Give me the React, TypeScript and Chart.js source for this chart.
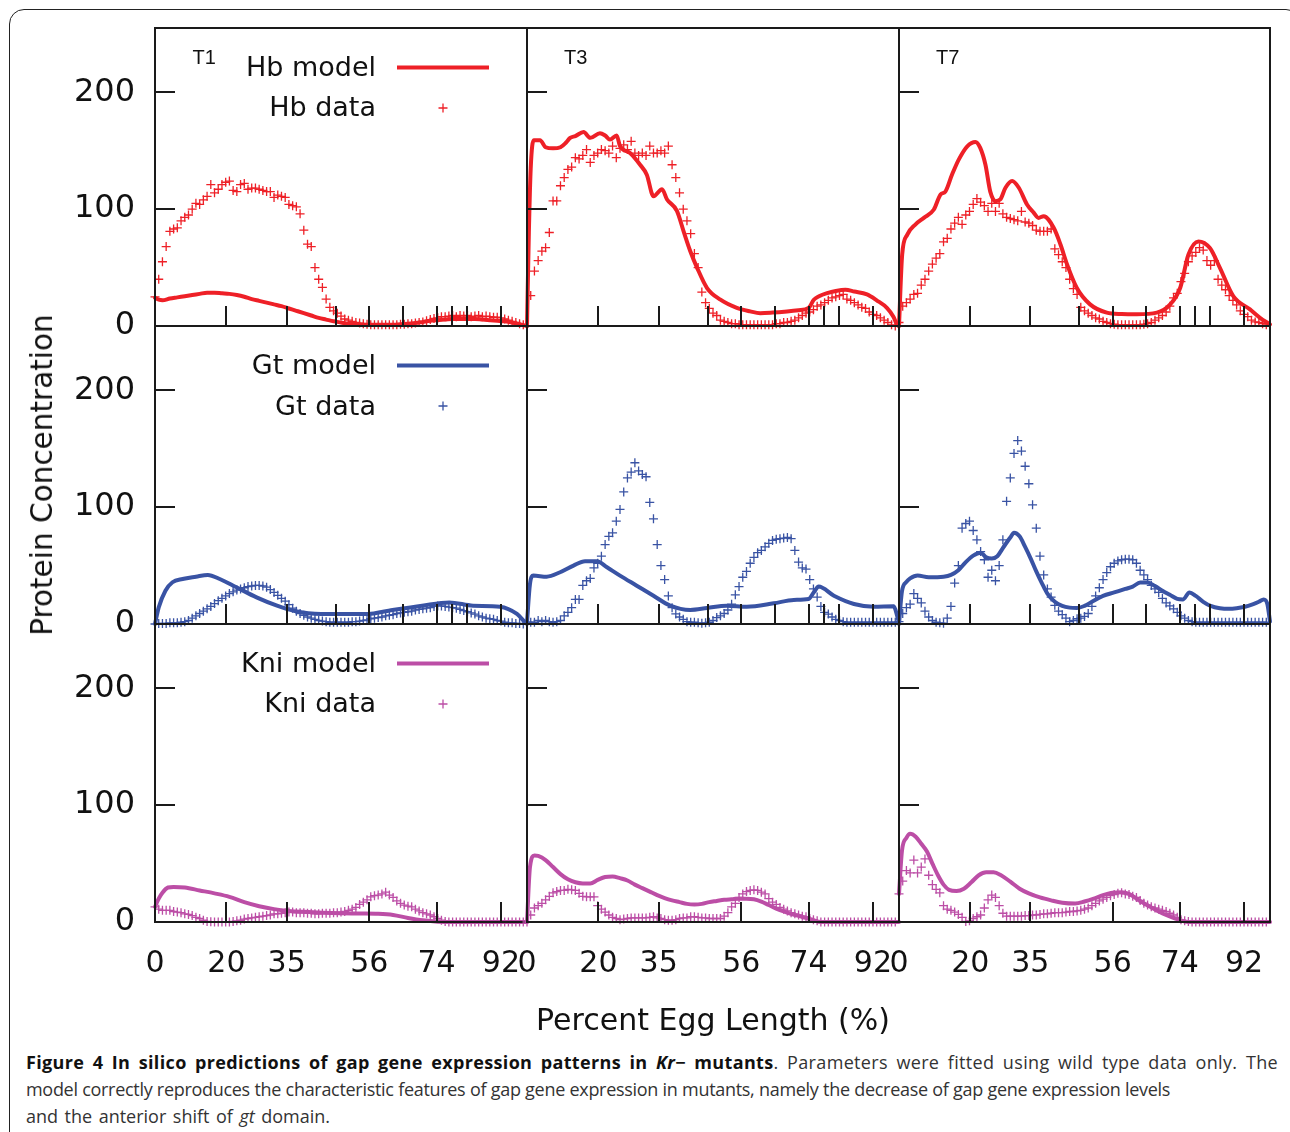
import React, { useEffect, useRef } from 'react';
import { Chart, registerables } from 'chart.js';
Chart.register(...registerables);

type Pt = [number, number];

// ---------- axes ----------
const DATA_X = [0, 1, 2, 3, 4, 5, 6, 7, 8, 9, 10, 11, 12, 13, 14, 15, 16, 17, 18, 19, 20, 21, 22, 23, 24, 25, 26, 27, 28, 29, 30, 31, 32, 33, 34, 35, 36, 37, 38, 39, 40, 41, 42, 43, 44, 45, 46, 47, 48, 49, 50, 51, 52, 53, 54, 55, 56, 57, 58, 59, 60, 61, 62, 63, 64, 65, 66, 67, 68, 69, 70, 71, 72, 73, 74, 75, 76, 77, 78, 79, 80, 81, 82, 83, 84, 85, 86, 87, 88, 89, 90, 91, 92, 93, 94, 95, 96, 97, 98, 99];
const X_TICK_MARKS = [19.2, 35.4, 48.6, 57.6, 66.6, 75.7, 79.8, 83.9, 93.0];
const X_TICK_MARKS_BOTTOM = [19.2, 35.4, 57.6, 75.7, 93.0];
const X_LABEL_POS = [0, 19.2, 35.4, 57.6, 75.7, 93.0];
const X_LABELS = ['0', '20', '35', '56', '74', '92'];
const Y_TICKS = [0, 100, 200];
const Y_MARKS = [100, 200];
const TIME_LABELS = ['T1', 'T3', 'T7'];
const GENES = ['Hb', 'Gt', 'Kni'];
const COLORS = ['#ee2027', '#3953a4', '#bc4ea6'];

// ---------- Hb ----------
const T1_HB_DATA = [25, 40, 55, 68, 81, 83, 84, 90, 93, 95,
  100, 105, 104, 108, 111, 121, 114, 117, 121, 123,
  124, 116, 115, 121, 122, 117, 118, 118, 117, 116,
  115, 115, 110, 112, 111, 110, 104, 103, 102, 96,
  82, 70, 68, 50, 40, 33, 23, 16, 13, 11,
  8.5, 6, 5, 4, 3, 2.5, 2, 1.5, 1, 1,
  1, 1, 1, 1, 1, 1, 1.5, 1.5, 2, 2,
  2.5, 3, 3.5, 4.5, 5.5, 6.5, 7, 8, 8, 8.5,
  9, 8, 9, 8.5, 9, 8, 8.5, 9, 8, 8.5,
  8, 7.5, 7.5, 7, 6, 5, 4, 3, 2, 1];
const T3_HB_DATA = [0, 26, 47, 56, 64, 67, 80, 107, 107, 120,
  127, 134, 136, 144, 143, 146, 151, 140, 146, 148,
  151, 150, 148, 154, 144, 152, 155, 151, 158, 148,
  146, 148, 146, 154, 148, 148, 150, 148, 154, 138,
  127, 114, 100, 90, 79, 62, 50, 29, 20, 15,
  11, 9, 5, 4, 3, 2, 2, 1, 1, 1,
  1, 1, 1, 1, 1, 1, 1, 2, 2, 3,
  3, 4, 5, 7, 9, 11, 12, 14, 17, 18,
  20, 22, 24, 25, 26, 27, 23, 22, 20, 18,
  16, 15, 12, 10, 9, 7, 5, 3, 1, 0];
const T7_HB_DATA = [3, 17, 20, 23, 27, 28, 35, 40, 47, 53,
  58, 62, 72, 75, 83, 88, 93, 87, 95, 98,
  104, 109, 106, 103, 98, 105, 98, 105, 96, 93,
  92, 91, 90, 98, 89, 88, 86, 82, 81, 81,
  81, 83, 66, 61, 55, 50, 40, 32, 27, 16,
  13, 11, 9, 7, 6, 4, 3, 2, 1.5, 1,
  1, 1, 1, 1, 1, 1, 1.5, 2, 3, 5,
  7, 9, 12, 17, 24, 28, 38, 45, 55, 60,
  63, 67, 65, 56, 52, 56, 40, 35, 31, 26,
  22, 18, 13, 10, 8, 5, 3.5, 3, 2, 1];
const T1_HB_MODEL: Pt[] = [[0, 24], [1, 22.5], [2, 22], [4, 23.5], [6, 24.5], [8, 25.5], [10, 26.5], [12, 27.5], [14, 28.5], [16, 28.5], [18, 28], [20, 27.5], [22, 26.5], [24, 25], [26, 23], [28, 21.5], [30, 20], [32, 18.5], [34, 17], [36, 15], [38, 13], [40, 11], [42, 9], [44, 7], [46, 5.5], [48, 4], [50, 3], [52, 2], [55, 1.3], [60, 1], [64, 1], [66, 1.5], [68, 2], [70, 2.5], [72, 3.5], [74, 4.5], [76, 5], [78, 5.5], [80, 6], [86, 6], [88, 5.5], [90, 5], [92, 4.5], [94, 4], [96, 3], [98, 1.5], [100, 0]];
const T3_HB_MODEL: Pt[] = [[0, 0], [0.5, 80], [1, 135], [1.8, 159], [3.5, 159], [5, 153], [7, 152], [9, 153], [10.5, 157], [11.6, 161], [13, 162.5], [15.2, 166], [17, 161], [19.6, 165], [21, 163], [22.3, 159.5], [24.1, 163], [25, 154], [27.7, 148], [30.4, 138], [32.2, 129.5], [34, 111], [36.3, 117], [37.6, 108.5], [40.3, 98.5], [42.1, 81], [43.9, 64], [45.7, 50], [48.4, 32.5], [52, 22.5], [56.4, 15.5], [60, 12.5], [62.7, 11], [66, 11.5], [69.9, 12.5], [73, 13.5], [75.7, 15.4], [77.1, 22.5], [78.5, 25.5], [80.7, 28.2], [83, 30], [85.6, 31], [88, 29.5], [91.4, 27], [94, 22], [96.8, 15.4], [98.5, 8], [99.5, 1], [100, 0]];
const T7_HB_MODEL: Pt[] = [[0, 0], [0.85, 61], [2.2, 78], [4.4, 86.8], [6.7, 92.5], [9.4, 99.7], [11.2, 112.5], [12.5, 115], [14.3, 129.6], [16.1, 142.4], [18.4, 153.8], [20.6, 157.5], [21.9, 152.4], [23.3, 138], [24.6, 115], [26, 106.8], [27.3, 108.3], [28.7, 118.3], [30.5, 124], [32.3, 118.3], [34.5, 104], [36.3, 97], [37.6, 92.5], [39, 94], [41.7, 84], [43.5, 70], [45.3, 52.7], [47.9, 32.7], [51.5, 18.5], [56, 11.4], [60, 10.2], [64.1, 10], [69.5, 11.4], [73.1, 18.5], [75.8, 32.7], [78, 61], [80.7, 72.4], [83.8, 66.7], [86.5, 49.8], [90.1, 25.6], [94.6, 14.2], [97.3, 7], [100, 1.4]];

// ---------- Gt ----------
const T1_GT_DATA = [0, 0.5, 0.5, 0.5, 1, 1, 1, 1.5, 2, 3,
  5, 7, 9, 11, 13, 15, 17.5, 20, 22, 24,
  26, 27.5, 29, 30, 31, 32, 32.5, 33, 33, 32.5,
  31.5, 29.5, 27, 24.5, 22, 19.5, 16.5, 13.5, 11, 9,
  7.5, 6, 5, 4, 3, 2.5, 2, 1.5, 1.5, 1.5,
  1.5, 1.5, 1.5, 2, 2, 2.5, 3, 3.5, 4.5, 5,
  5.5, 6, 7, 7.5, 8, 9, 9.5, 10, 10.5, 11,
  12, 12.5, 13, 13.5, 14, 15, 15.5, 15.5, 15, 14.5,
  14, 13.5, 12.5, 11.5, 10.5, 9.5, 8.5, 7, 6, 5,
  4.5, 4, 3, 2.5, 1.5, 1, 1, 0.5, 0.5, 0];
const T3_GT_DATA = [1.5, 1.5, 1.5, 3, 2, 3, 2, 1.5, 2, 3,
  7, 10, 14, 21, 21, 33, 37, 39, 48, 52,
  58, 68, 75, 78, 88, 98, 113, 125, 130, 138,
  131, 128, 126, 104, 90, 68, 50, 38, 24, 14,
  8.6, 6, 4, 2, 1.5, 1.5, 1, 0.7, 1, 1.5,
  3, 5.5, 7, 9, 12, 17, 25, 32, 40, 45,
  52, 57, 61, 63, 66, 69, 71.5, 72.5, 73, 73.5,
  74, 73, 63, 53, 48, 47, 38, 30, 23, 15,
  10, 8.5, 6, 4, 3, 2, 1.5, 1.5, 1.5, 1.5,
  1.5, 1.5, 1.5, 1.5, 1.5, 1.5, 1.5, 1.5, 1.5, 1.5];
const T7_GT_DATA = [2, 9, 14, 17, 26, 22, 18, 11, 6, 3,
  1.5, 1, 0.7, 5, 15, 35, 50, 82, 86, 88,
  80, 72, 62, 55, 40, 46, 37, 50, 72, 105,
  125, 146, 157, 148, 135, 120, 102, 82, 58, 42,
  30, 23, 16, 11, 8, 5, 2, 3, 4.5, 5,
  6.5, 9, 15, 24, 31, 38, 44, 49, 52, 54,
  55, 55.5, 55.5, 55, 52, 46, 42, 38, 33, 30,
  27, 22, 18, 15.5, 13, 10, 7, 5, 3, 2,
  1.5, 1.5, 1.5, 1.5, 1.5, 1.5, 1.5, 1.5, 1.5, 1.5,
  1.5, 1.5, 1.5, 1.5, 1.5, 1.5, 1.5, 1.5, 1.5, 1.5];
const T1_GT_MODEL: Pt[] = [[0, 0], [1, 14.2], [2.8, 28.5], [4.7, 35.7], [7.4, 38.5], [11, 40.5], [14.2, 42], [17.4, 38.5], [21.9, 31.4], [27.3, 22.8], [32.8, 15.7], [37.3, 11.4], [44.6, 8.6], [57.3, 8.6], [62.8, 11.4], [71.8, 15.7], [79.1, 18.5], [85.5, 15.7], [92.7, 14.8], [97.3, 8.6], [99.5, 1.4], [100, 0]];
const T3_GT_MODEL: Pt[] = [[0, 1.5], [0.8, 34.3], [1.7, 41.4], [5.3, 40.5], [8.9, 44.3], [12.5, 50], [15.6, 53.7], [18.8, 53.7], [21.5, 48.5], [25, 41.4], [29.5, 32.8], [34, 24.2], [38.5, 15.7], [43.9, 12], [48.4, 13.7], [53.7, 15.7], [59.1, 14.8], [66.3, 17.7], [71.7, 20.6], [75.7, 21.4], [77.1, 27.1], [78.4, 32], [82.5, 24.2], [87.9, 17.1], [93.2, 14.8], [98.6, 15.1], [99.5, 7], [100, 1]];
const T7_GT_MODEL: Pt[] = [[0, 0], [0.8, 28], [2, 36], [3, 39], [5, 41.5], [8, 40], [12, 40.5], [14, 42], [16, 46], [18, 53], [20, 58.5], [22, 61], [23.5, 57], [25, 56], [26.5, 58], [28, 65], [30, 74], [31, 78], [32.5, 75], [34, 66], [35.5, 56], [37, 45], [38.5, 35], [40, 26], [42, 19], [44, 15.5], [46, 14], [48, 13.7], [50, 15.5], [52, 19], [55, 24], [58, 27], [61, 30], [63, 32], [65, 35.5], [67, 35.5], [69, 32.5], [71, 28.5], [73, 25], [75, 21.5], [76.5, 21], [78.3, 27], [80, 24], [82, 19], [84, 15.5], [86.5, 13.5], [89, 13], [91, 13.5], [93, 14.5], [95.5, 17], [97, 19], [98.3, 21], [99.3, 17], [100, 2]];

// ---------- Kni ----------
const T1_KNI_DATA = [13, 11, 10, 10, 10, 9, 8.5, 8, 7, 6.5,
  5.5, 4, 3, 1.5, 0.5, 0.2, 0, 0, 0, 0,
  0, 0.5, 1, 1.5, 2.5, 3, 3.5, 4, 4.5, 5,
  5.5, 6, 7, 7, 7.5, 8, 8.5, 8.5, 8, 8,
  8, 7.5, 7.5, 7, 7, 7.5, 7.5, 7.5, 8, 8,
  8.5, 9, 10, 11, 12.5, 15, 17, 19, 21.5, 22.5,
  23, 24, 25.5, 23, 21, 18, 16, 14.5, 13.5, 13,
  11, 9.5, 8, 7, 6, 4.5, 3, 1.5, 0.5, 0,
  0, 0, 0, 0, 0, 0, 0, 0, 0, 0,
  0, 0, 0, 0, 0, 0, 0, 0, 0, 0];
const T3_KNI_DATA = [0, 6, 12, 14, 16, 19, 22, 25, 26, 27,
  27, 28, 27.5, 27, 24.5, 22, 21.5, 21.5, 21.5, 14,
  11, 8.5, 6, 4, 3, 2, 2.5, 3, 3.5, 3.5,
  3.5, 3.5, 3.5, 4, 4.5, 3.5, 3, 2, 1.5, 1.5,
  2, 3, 3.5, 3.5, 4.5, 4.5, 4, 3.5, 3.5, 3,
  3, 3, 3, 5, 8, 13, 16, 21, 24, 26,
  27, 27.5, 27, 25.5, 24, 20, 17, 15, 12.5, 11,
  9.5, 8, 7, 6, 5, 4.5, 3, 2, 1, 0,
  0, 0, 0, 0, 0, 0, 0, 0, 0, 0,
  0, 0, 0, 0, 0, 0, 0, 0, 0, 0];
const T7_KNI_DATA = [24, 35, 44, 42, 53, 42, 47, 54, 40, 32,
  28, 25, 14, 11, 10, 8.5, 6.5, 4, 0.5, 1,
  3, 4.5, 6, 12, 19, 23, 21, 14, 7.5, 5,
  5, 5, 5, 5, 5.5, 5.5, 6, 6, 6.5, 7,
  7, 7.5, 8, 8, 8, 8.5, 9, 9, 9.5, 10,
  11, 12, 14, 16, 18, 19.5, 21, 22.5, 23.5, 24.5,
  25, 24, 23.5, 22, 21, 18.5, 16, 14.5, 13, 12,
  11, 10, 9, 7.5, 6, 4, 2, 1, 0.5, 0,
  0, 0, 0, 0, 0, 0, 0, 0, 0, 0,
  0, 0, 0, 0, 0, 0, 0, 0, 0, 0];
const T1_KNI_MODEL: Pt[] = [[0, 13], [1, 20], [2, 25], [3.5, 29.5], [5, 30], [8, 29.5], [12, 27], [16, 24.5], [20, 21.5], [24, 17], [28, 13.5], [32, 11], [36, 9.5], [40, 8.7], [45, 8], [50, 7.5], [55, 7.3], [60, 7], [64, 6], [68, 3.5], [72, 1.5], [76, 0.3], [80, 0], [100, 0]];
const T3_KNI_MODEL: Pt[] = [[0, 0], [0.8, 47], [2, 57], [3, 56.5], [5, 53], [7, 47], [9, 41], [11, 36.5], [13, 34], [15, 33], [17, 33], [19, 36], [21, 38.5], [23, 39], [25, 37.5], [27, 35.5], [29, 32], [31, 29], [33, 26], [35, 23], [37, 20.5], [39, 18.5], [41, 17], [43, 15.5], [45, 15], [47, 15.5], [49, 17], [51, 18], [53, 19], [55, 19.5], [57, 20], [59, 20], [61, 19.5], [63, 17.5], [65, 14.5], [67, 11.5], [69, 9], [71, 7], [73, 5.2], [75, 3.5], [77, 1.5], [79, 0], [100, 0]];
const T7_KNI_MODEL: Pt[] = [[0, 24], [0.8, 61], [2, 72], [3, 75.5], [4.5, 73], [6, 67], [7.5, 60.5], [9, 50], [10.5, 40], [12, 32], [13.5, 27.5], [15.5, 26.5], [17.5, 28.5], [19.5, 34], [21.5, 40], [23.5, 42.5], [25.5, 42.5], [27.5, 40], [30, 34.5], [32.5, 28.5], [35, 24.5], [38, 21], [41, 18.5], [44, 16.5], [47.5, 15.8], [50, 17.5], [52.5, 20], [55, 23], [57.5, 25], [60, 25.5], [62, 24], [64, 20], [66, 16], [68, 12.5], [70, 9], [72, 6], [74.5, 3], [77, 0.5], [79, 0], [100, 0]];

const DATA = [
  [T1_HB_DATA, T3_HB_DATA, T7_HB_DATA],
  [T1_GT_DATA, T3_GT_DATA, T7_GT_DATA],
  [T1_KNI_DATA, T3_KNI_DATA, T7_KNI_DATA],
];
const MODELS = [
  [T1_HB_MODEL, T3_HB_MODEL, T7_HB_MODEL],
  [T1_GT_MODEL, T3_GT_MODEL, T7_GT_MODEL],
  [T1_KNI_MODEL, T3_KNI_MODEL, T7_KNI_MODEL],
];

// ---------- layout ----------
const COL_EDGES = [155, 527, 899, 1270];
const ROW_EDGES = [28, 326, 624, 922];
const Y_MAX = 255;
const FONT = 'DejaVu Sans';
const INK = '#111';

function Panel({ r, c }: { r: number; c: number }) {
  const ref = useRef<HTMLCanvasElement>(null);
  const left = COL_EDGES[c];
  const top = ROW_EDGES[r];
  const pw = COL_EDGES[c + 1] - left;
  const ph = ROW_EDGES[r + 1] - top;
  const mL = c === 0 ? left : 24;
  const mR = 24;
  const mT = 24;
  const mB = r === 2 ? 100 : 24;
  const yAxisW = c === 0 ? 150 : 0;
  const xAxisH = r === 2 ? 80 : 0;
  const W = pw + mL + mR;
  const H = ph + mT + mB;

  useEffect(() => {
    const color = COLORS[r];
    const vals = DATA[r][c];
    const model = MODELS[r][c];
    const framePlugin = {
      id: 'frame',
      afterDatasetsDraw(chart: any) {
        const { ctx, chartArea: a, scales } = chart;
        const xs = scales.x;
        const ys = scales.y;
        ctx.save();
        ctx.strokeStyle = '#1a1a1a';
        ctx.lineWidth = 2;
        ctx.strokeRect(a.left, a.top, a.right - a.left, a.bottom - a.top);
        ctx.beginPath();
        const marks = r === 2 ? X_TICK_MARKS_BOTTOM : X_TICK_MARKS;
        for (const m of marks) {
          const x = Math.round(xs.getPixelForValue(m));
          ctx.moveTo(x, a.bottom);
          ctx.lineTo(x, a.bottom - 20);
        }
        for (const v of Y_MARKS) {
          const y = Math.round(ys.getPixelForValue(v));
          ctx.moveTo(a.left, y);
          ctx.lineTo(a.left + 20, y);
        }
        ctx.stroke();
        if (c === 0) {
          // legend samples
          ctx.strokeStyle = color;
          ctx.lineWidth = 4;
          ctx.beginPath();
          ctx.moveTo(a.left + 242, a.top + 39.5);
          ctx.lineTo(a.left + 334, a.top + 39.5);
          ctx.stroke();
          ctx.lineWidth = 1.3;
          ctx.beginPath();
          const cx = a.left + 288;
          const cy = a.top + 80;
          ctx.moveTo(cx - 4.5, cy);
          ctx.lineTo(cx + 4.5, cy);
          ctx.moveTo(cx, cy - 4.5);
          ctx.lineTo(cx, cy + 4.5);
          ctx.stroke();
        }
        ctx.restore();
      },
    };
    const chart = new Chart(ref.current as HTMLCanvasElement, {
      type: 'line',
      data: {
        datasets: [
          {
            data: DATA_X.map((x, i) => ({ x, y: vals[i] })),
            showLine: false,
            pointStyle: 'cross',
            pointRadius: 4.5,
            pointBorderWidth: 1.3,
            pointBorderColor: color,
            pointBackgroundColor: color,
            borderColor: color,
            clip: 10,
          } as any,
          {
            data: model.map(([x, y]) => ({ x, y })),
            borderColor: color,
            borderWidth: 4,
            pointRadius: 0,
            cubicInterpolationMode: 'monotone',
            borderJoinStyle: 'round',
            borderCapStyle: 'round',
            fill: false,
            clip: 4,
          } as any,
        ],
      },
      options: {
        responsive: false,
        maintainAspectRatio: false,
        animation: false,
        events: [],
        layout: {
          padding: { left: mL - yAxisW, right: mR, top: mT, bottom: mB - xAxisH },
        },
        plugins: { legend: { display: false }, tooltip: { enabled: false } },
        scales: {
          x: {
            type: 'linear',
            min: 0,
            max: 100,
            display: r === 2,
            position: 'bottom',
            grid: { display: false, drawTicks: false },
            border: { display: false },
            ticks: {
              autoSkip: false,
              maxRotation: 0,
              minRotation: 0,
              padding: 24,
              color: INK,
              font: { family: FONT, size: 30 },
              callback: (_v: any, i: number) => X_LABELS[i],
            },
            afterBuildTicks: (s: any) => {
              s.ticks = X_LABEL_POS.map((value) => ({ value }));
            },
            afterFit: (s: any) => {
              if (r === 2) s.height = xAxisH;
              s.paddingLeft = 0;
              s.paddingRight = 0;
            },
          },
          y: {
            type: 'linear',
            min: 0,
            max: Y_MAX,
            display: c === 0,
            position: 'left',
            grid: { display: false, drawTicks: false },
            border: { display: false },
            ticks: {
              padding: 20,
              color: INK,
              font: { family: FONT, size: 32 },
            },
            afterBuildTicks: (s: any) => {
              s.ticks = Y_TICKS.map((value) => ({ value }));
            },
            afterFit: (s: any) => {
              if (c === 0) s.width = yAxisW;
              s.paddingTop = 0;
              s.paddingBottom = 0;
            },
          },
        },
      } as any,
      plugins: [framePlugin],
    });
    return () => chart.destroy();
  }, []);

  return (
    <canvas
      ref={ref}
      width={W}
      height={H}
      style={{ position: 'absolute', left: left - mL, top: top - mT, width: W, height: H }}
    />
  );
}

const LEGEND_TOPS = [[51, 91.3], [348.7, 389.7], [647, 687.3]];
const T_LABEL_LEFT = [192.5, 564, 936];

export default function App() {
  const panels = [];
  for (let r = 0; r < 3; r++) for (let c = 0; c < 3; c++) panels.push(<Panel key={`${r}-${c}`} r={r} c={c} />);
  const legendStyle: React.CSSProperties = {
    position: 'absolute',
    right: 1290 - 376,
    fontFamily: FONT,
    fontSize: 27,
    lineHeight: '32px',
    color: INK,
    whiteSpace: 'nowrap',
  };
  const capLine: React.CSSProperties = {
    position: 'absolute',
    left: 26,
    fontFamily: '"Open Sans"',
    fontSize: 18,
    lineHeight: '27px',
    color: '#333',
    whiteSpace: 'nowrap',
    textAlign: 'justify',
    textAlignLast: 'justify',
  };
  return (
    <div style={{ position: 'absolute', left: 0, top: 0, width: 1290, height: 1132, overflow: 'hidden', background: '#fff' }}>
      <div style={{ position: 'absolute', left: 9, top: 9, width: 1292, height: 1200, border: '1.5px solid #222', borderRadius: 15, boxSizing: 'border-box' }} />
      {panels}
      {GENES.map((g, r) => (
        <React.Fragment key={g}>
          <div style={{ ...legendStyle, top: LEGEND_TOPS[r][0] }}>{g} model</div>
          <div style={{ ...legendStyle, top: LEGEND_TOPS[r][1] }}>{g} data</div>
        </React.Fragment>
      ))}
      {TIME_LABELS.map((t, c) => (
        <div key={t} style={{ position: 'absolute', left: T_LABEL_LEFT[c], top: 45, fontFamily: 'Liberation Sans', fontSize: 20, lineHeight: '24px', color: INK }}>{t}</div>
      ))}
      <div style={{ position: 'absolute', left: 42, top: 474.5, transform: 'translate(-50%, -50%) rotate(-90deg)', fontFamily: FONT, fontSize: 29.5, lineHeight: '34px', color: INK, whiteSpace: 'nowrap' }}>Protein Concentration</div>
      <div style={{ position: 'absolute', left: 713, top: 1003, transform: 'translateX(-50%)', fontFamily: FONT, fontSize: 30, lineHeight: '34px', color: INK, whiteSpace: 'nowrap' }}>Percent Egg Length (%)</div>
      <div style={{ ...capLine, top: 1049, width: 1252, letterSpacing: '0.35px' }}>
        <b style={{ color: '#111' }}>Figure 4 In silico predictions of gap gene expression patterns in <i>Kr</i>− mutants</b>. Parameters were fitted using wild type data only. The
      </div>
      <div style={{ ...capLine, top: 1076, width: 1144, letterSpacing: '-0.3px' }}>
        model correctly reproduces the characteristic features of gap gene expression in mutants, namely the decrease of gap gene expression levels
      </div>
      <div style={{ ...capLine, top: 1103, width: 304 }}>
        and the anterior shift of <i>gt</i> domain.
      </div>
    </div>
  );
}
